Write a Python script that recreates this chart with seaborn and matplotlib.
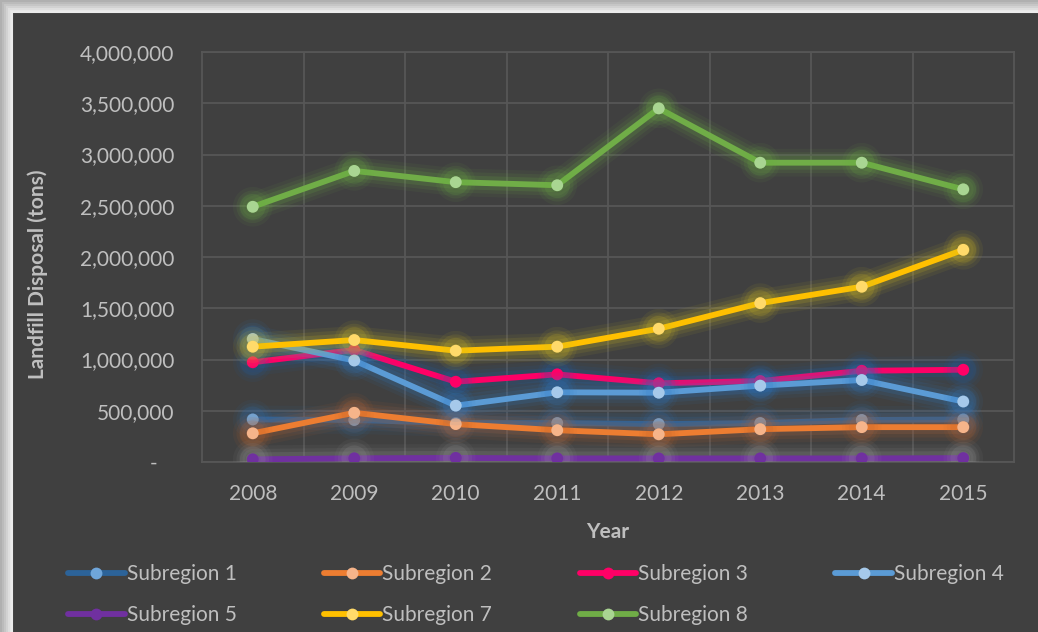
import matplotlib
matplotlib.use("Agg")
import matplotlib.pyplot as plt
import matplotlib.patheffects as pe
from matplotlib.lines import Line2D
from matplotlib.patches import Rectangle
from matplotlib.ticker import FuncFormatter, MultipleLocator
import seaborn as sns
import pandas as pd

years = [2008, 2009, 2010, 2011, 2012, 2013, 2014, 2015]
subregion_1 = [415000, 410000, 380000, 380000, 370000, 380000, 410000, 415000]
subregion_2 = [280000, 480000, 370000, 310000, 270000, 320000, 340000, 340000]
subregion_3 = [973000, 1093000, 783000, 855000, 768000, 790000, 890000, 900000]
subregion_4 = [1200000, 990000, 550000, 680000, 676000, 745000, 800000, 590000]
subregion_5 = [26000, 36000, 40000, 35000, 35000, 35000, 35000, 38000]
subregion_7 = [1125000, 1190000, 1086000, 1125000, 1300000, 1550000, 1710000, 2070000]
subregion_8 = [2490000, 2840000, 2730000, 2700000, 3450000, 2920000, 2920000, 2660000]

names = ["Subregion 1", "Subregion 2", "Subregion 3", "Subregion 4",
         "Subregion 5", "Subregion 7", "Subregion 8"]
values = [subregion_1, subregion_2, subregion_3, subregion_4,
          subregion_5, subregion_7, subregion_8]

line_colors = ["#2C6399", "#ED7D31", "#FF0066", "#5B9BD5", "#7030A0", "#FFC000", "#70AD47"]
marker_colors = ["#6FA6DA", "#F6B48A", "#FF0066", "#A6C9EA", "#7030A0", "#FFDA6A", "#A9D592"]
glow_colors = ["#2F6FB0", "#C0622A", "#1F5FA8", "#2F7CC8", "#9A9A9A", "#D8C020", "#6CB040"]

BG = "#404040"
GRID = "#575757"
TXT = "#BFBFBF"
FONT = ["Lato", "DejaVu Sans"]

sns.set_theme(style="dark")
plt.rcParams["font.family"] = FONT

fig = plt.figure(figsize=(10.38, 6.32), dpi=100)
fig.patch.set_facecolor("#A8A8A8")
# outer shadow frame (gradient toward the panel)
for k, c in enumerate(["#B0B0B0", "#BBBBBB", "#C6C6C6", "#D2D2D2", "#DEDEDE", "#E8E8E8"]):
    d = 12 - 2 * k
    fig.patches.append(Rectangle(((12 - d) / 1038, -0.1), 1.2, 0.1 + (632 - 12 + d) / 632,
                                 transform=fig.transFigure, facecolor=c,
                                 edgecolor="none", zorder=-3))
fig.patches.append(Rectangle((12 / 1038, -0.1), 1.2, 0.1 + (632 - 12) / 632,
                             transform=fig.transFigure, facecolor=BG,
                             edgecolor="#ECECEC", linewidth=1.5, zorder=-2))

ax = fig.add_axes([202 / 1038, 1 - 462 / 632, (1014 - 202) / 1038, (462 - 52) / 632])
ax.set_facecolor(BG)

rows = []
for n, v in zip(names, values):
    for y, val in zip(years, v):
        rows.append({"Year": y, "Series": n, "Value": val})
df = pd.DataFrame(rows)

for i, n in enumerate(names):
    sub = df[df["Series"] == n]
    sns.lineplot(data=sub, x="Year", y="Value", ax=ax, color=line_colors[i],
                 linewidth=4.2, marker="o", markersize=8.5,
                 markerfacecolor=marker_colors[i], markeredgecolor=marker_colors[i],
                 markeredgewidth=0, zorder=3 + i, legend=False)
    ln = ax.lines[-1]
    g = glow_colors[i]
    ln.set_path_effects([
        pe.Stroke(linewidth=20, foreground=g, alpha=0.07),
        pe.Stroke(linewidth=15, foreground=g, alpha=0.10),
        pe.Stroke(linewidth=10, foreground=g, alpha=0.16),
        pe.Normal(),
    ])

ax.set_xlim(2007.5, 2015.5)
ax.set_ylim(0, 4000000)
ax.set_xticks(years)
ax.set_xticklabels([str(y) for y in years])
ax.set_xticks([y + 0.5 for y in years[:-1]], minor=True)
ax.yaxis.set_major_locator(MultipleLocator(500000))
ax.yaxis.set_major_formatter(FuncFormatter(lambda v, p: "-   " if v == 0 else f"{int(v):,}"))

ax.grid(False)
ax.grid(True, which="minor", axis="x", color=GRID, linewidth=1.3)
ax.grid(True, which="major", axis="y", color=GRID, linewidth=1.3)
for s in ax.spines.values():
    s.set_visible(True)
    s.set_color(GRID)
    s.set_linewidth(1.3)

ax.tick_params(axis="both", which="both", length=0, colors=TXT, labelsize=15)
ax.tick_params(axis="x", pad=16)
ax.tick_params(axis="y", pad=20)

ax.set_xlabel("Year", color=TXT, fontsize=15, fontweight="bold")
ax.set_ylabel("Landfill Disposal (tons)", color=TXT, fontsize=15, fontweight="bold")
ax.xaxis.set_label_coords(0.5, -0.146)
ax.yaxis.set_label_coords(-0.190, 0.459)

handles = [Line2D([0], [0], color=line_colors[i], linewidth=4.2, marker="o",
                  markersize=8.5, markerfacecolor=marker_colors[i],
                  markeredgewidth=0) for i in range(len(names))]
# row-major display order in a column-filled legend
order = [0, 4, 1, 5, 2, 6, 3]
leg = fig.legend([handles[i] for i in order], [names[i] for i in order],
                 loc="upper left", ncol=4,
                 bbox_to_anchor=(60 / 1038, 1 - 556 / 632),
                 frameon=False, fontsize=15, handlelength=2.7,
                 handletextpad=0.1, columnspacing=4.2, labelspacing=1.0,
                 borderaxespad=0)
for t in leg.get_texts():
    t.set_color(TXT)

fig.savefig("out.png", dpi=100, facecolor=fig.get_facecolor())
